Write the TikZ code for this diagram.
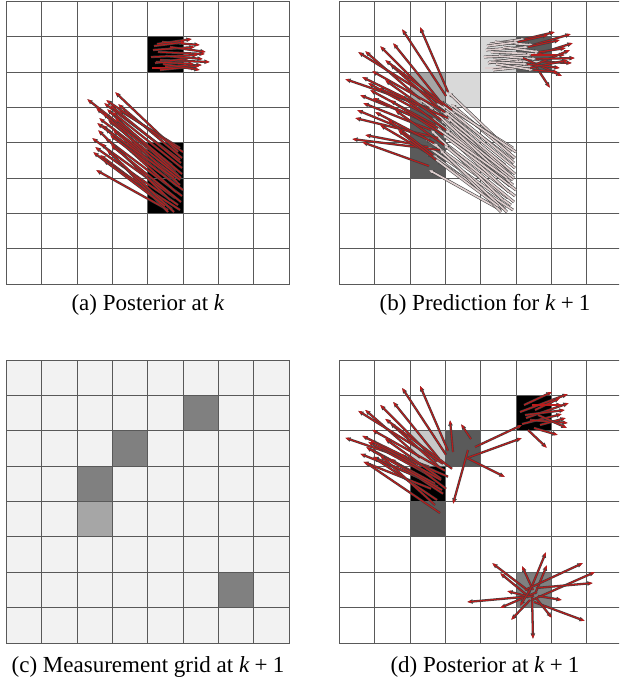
\documentclass[tikz,border=0pt]{standalone}
\usepackage{fontspec}
\setmainfont{Liberation Serif}
\usetikzlibrary{arrows.meta}
\definecolor{arred}{RGB}{185,28,28}
\definecolor{arrline}{RGB}{64,64,64}
\definecolor{gcore}{RGB}{222,206,206}
\definecolor{cellbg}{RGB}{242,242,242}
\definecolor{gdark}{RGB}{90,90,90}
\definecolor{gmid}{RGB}{166,166,166}
\definecolor{glight}{RGB}{217,217,217}
\definecolor{gmeas}{RGB}{128,128,128}
\definecolor{gpost}{RGB}{200,200,200}
\tikzset{
  gridline/.style={draw=black!65, line width=0.9pt, line cap=rect},
  redout/.style={draw=arrline, line width=2.3pt, -{Latex[length=5.6pt,width=5pt]}},
  redin/.style={draw=arred, line width=1.15pt, -{Latex[length=4pt,width=3.4pt]}},
  grayout/.style={draw=arrline, line width=2.8pt, -{Latex[length=5pt,width=5pt]}},
  grayin/.style={draw=gcore, line width=1.7pt, -{Latex[length=3.6pt,width=3.4pt]}},
  captext/.style={font=\fontsize{23}{27}\selectfont, anchor=base, inner sep=0pt},
  cellgrid/.pic={\foreach \i in {0,...,8}{\draw[gridline] (\i*35.375,0) -- (\i*35.375,283); \draw[gridline] (0,\i*35.375) -- (283,\i*35.375);}},
}
\def\amainlist{178/152/115/92, 172/165/87/99, 180/160/104/103, 176/170/96/108, 181/163/110/105, 182/158/118/104, 178/175/107/109, 180/180/99/118, 177/186/102/125, 182/168/112/112, 181/178/108/120, 175/198/92/138, 182/196/105/138, 178/205/95/147, 172/209/100/155, 180/210/103/160, 168/210/96/170, 182/174/115/118, 176/192/105/128, 170/200/98/130, 183/190/110/135, 168/212/101/143, 174/212/107/150, 180/185/113/130, 165/206/93/152, 180/148/119/110, 177/182/103/113, 181/202/111/145, 174/178/97/123, 183/152/106/100}
\def\atoplist{157/44/192/39, 162/42/200/45, 153/50/195/47, 158/52/205/54, 151/57/198/55, 160/60/210/62, 155/63/190/58, 165/66/202/65, 152/68/197/68, 160/70/199/66, 170/47/206/52, 156/62/194/64, 166/56/203/59, 154/46/185/42, 163/64/200/70}
\def\bredAlist{448/92/420/27, 446/96/402/29, 439/100/393/43, 437/103/380/46, 420/99/365/51, 443/105/358/52, 429/108/345/79, 440/109/390/64, 452/110/385/60, 445/112/372/71, 436/113/362/77, 432/118/368/83, 448/118/378/88, 441/120/385/80, 430/123/360/95, 435/125/370/90, 438/128/373/98, 431/130/363/103, 446/130/400/95, 443/135/390/100}
\def\bredBlist{425/138/357/110, 438/138/355/118, 434/143/375/112, 444/145/395/110, 428/147/365/135, 440/150/352/139, 426/152/380/125, 433/155/388/120, 436/160/398/130, 429/166/362/142}
\def\btoplist{525/39/555/32, 533/45/571/34, 528/47/560/40, 538/54/573/43, 531/55/565/55, 543/62/572/63, 523/58/562/76, 535/65/550/88, 530/68/568/60, 532/66/570/50, 539/52/566/48, 527/64/560/68, 536/59/575/58, 518/42/548/35, 533/70/558/72}
\def\dextralist{440/513/365/462, 437/500/373/457, 442/490/366/447, 435/505/380/455, 441/480/370/440, 453/452/450/420, 471/439/461/424, 475/447/522/425, 467/458/522/438, 467/458/505/477, 468/450/453/504}
\def\dtoplist{524/405/552/392, 520/412/568/394, 526/418/569/403, 522/424/562/414, 530/420/568/423, 534/428/558/435, 528/430/547/448, 535/410/560/398, 525/415/565/410, 540/425/566/418, 532/405/562/405, 538/415/567/428}
\def\dbotlist{530/592/492/563, 528/596/500/573, 533/590/522/566, 527/598/546/552, 535/594/547/565, 525/590/583/563, 532/600/595/572, 536/588/593/583, 538/596/562/600, 534/602/585/621, 536/598/552/618, 532/594/533/639, 530/600/511/620, 537/592/500/608, 534/596/467/602, 526/596/507/591, 531/588/520/606}
\begin{document}
\begin{tikzpicture}[x=1pt,y=-1pt]
\useasboundingbox (0,0) rectangle (619,694);
\clip (0,0) rectangle (619,694);
\fill[white] (0,0) rectangle (619,694);
% ---------- (a)
\begin{scope}[shift={(6.3,1.3)}]
  \foreach \c/\r/\col in {4/1/black, 4/4/black, 4/5/black}
    \fill[\col] (\c*35.375,\r*35.375) rectangle ++(35.375,35.375);
  \pic {cellgrid};
\end{scope}
\foreach \a/\b/\c/\d in \atoplist {\draw[redout] (\a,\b) -- (\c,\d); \draw[redin] (\a,\b) -- (\c,\d);}
\foreach \a/\b/\c/\d in \amainlist {\draw[redout] (\a,\b) -- (\c,\d); \draw[redin] (\a,\b) -- (\c,\d);}
% ---------- (b)
\begin{scope}[shift={(339.3,1.3)}]
  \foreach \c/\r/\col in {4/1/glight, 5/1/gdark, 2/2/gmid, 3/2/glight, 2/3/gdark, 2/4/gdark}
    \fill[\col] (\c*35.375,\r*35.375) rectangle ++(35.375,35.375);
  \pic {cellgrid};
\end{scope}
\foreach \a/\b/\c/\d in \amainlist {\draw[grayout] (\a+333,\b) -- (\c+333,\d); \draw[grayin] (\a+333,\b) -- (\c+333,\d);}
\foreach \a/\b/\c/\d in \atoplist {\draw[grayout] (\a+333,\b) -- (\c+333,\d); \draw[grayin] (\a+333,\b) -- (\c+333,\d);}
\foreach \a/\b/\c/\d in \bredAlist {\draw[redout] (\a,\b) -- (\c,\d); \draw[redin] (\a,\b) -- (\c,\d);}
\foreach \a/\b/\c/\d in \bredBlist {\draw[redout] (\a,\b) -- (\c,\d); \draw[redin] (\a,\b) -- (\c,\d);}
\foreach \a/\b/\c/\d in \btoplist {\draw[redout] (\a,\b) -- (\c,\d); \draw[redin] (\a,\b) -- (\c,\d);}
% ---------- (c)
\begin{scope}[shift={(6.3,360)}]
  \fill[cellbg] (0,0) rectangle (283,283);
  \foreach \c/\r/\col in {5/1/gmeas, 3/2/gmeas, 2/3/gmeas, 6/6/gmeas, 2/4/gmid}
    \fill[\col] (\c*35.375,\r*35.375) rectangle ++(35.375,35.375);
  \pic {cellgrid};
\end{scope}
% ---------- (d)
\begin{scope}[shift={(339.3,360)}]
  \foreach \c/\r/\col in {5/1/black, 2/2/gpost, 3/2/gdark, 2/3/black, 2/4/gdark, 5/6/gmeas}
    \fill[\col] (\c*35.375,\r*35.375) rectangle ++(35.375,35.375);
  \pic {cellgrid};
\end{scope}
\begin{scope}[shift={(0,358.7)}]
\foreach \a/\b/\c/\d in \bredAlist {\draw[redout] (\a,\b) -- (\c,\d); \draw[redin] (\a,\b) -- (\c,\d);}
\end{scope}
\foreach \a/\b/\c/\d in \dextralist {\draw[redout] (\a,\b) -- (\c,\d); \draw[redin] (\a,\b) -- (\c,\d);}
\foreach \a/\b/\c/\d in \dtoplist {\draw[redout] (\a,\b) -- (\c,\d); \draw[redin] (\a,\b) -- (\c,\d);}
\foreach \a/\b/\c/\d in \dbotlist {\draw[redout] (\a,\b) -- (\c,\d); \draw[redin] (\a,\b) -- (\c,\d);}
% ---------- captions
\node[captext] (capa) at (148,310) {(a) Posterior at \textit{k}};
\node[captext] (capb) at (485,310) {(b) Prediction for \textit{k}\hspace{0.222em}+\hspace{0.222em}1};
\node[captext] (capc) at (148,672) {(c) Measurement grid at \textit{k}\hspace{0.222em}+\hspace{0.222em}1};
\node[captext] (capd) at (485,672) {(d) Posterior at \textit{k}\hspace{0.222em}+\hspace{0.222em}1};
\end{tikzpicture}
\end{document}
